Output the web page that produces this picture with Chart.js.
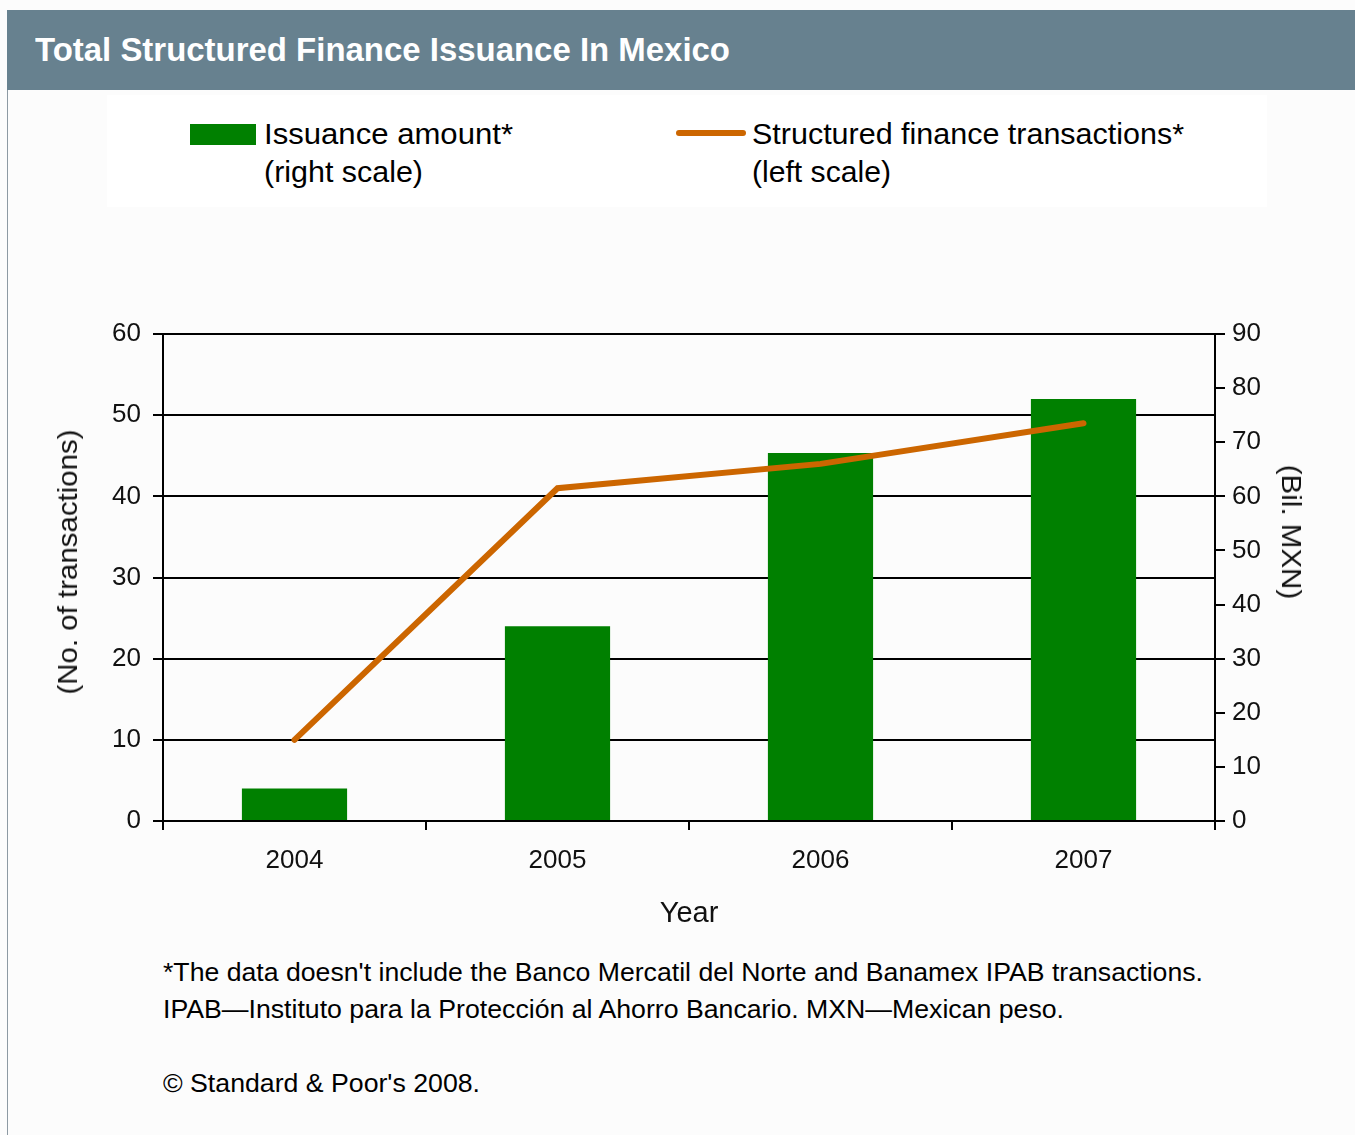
<!DOCTYPE html>
<html>
<head>
<meta charset="utf-8">
<script src="https://cdn.jsdelivr.net/npm/chart.js@4/dist/chart.umd.min.js"></script>
<style>
  body { margin: 0; width: 1355px; height: 1135px; background: #fcfcfc; position: relative; overflow: hidden;
         font-family: "Liberation Sans", Arial, sans-serif; color: #000; }
  #header { position: absolute; left: 7px; top: 10px; width: 1348px; height: 80px; background: #67818f; }
  #edge { position: absolute; left: 7px; top: 90px; width: 1px; height: 1045px; background: #8d9aa3; }
  #legendBox { position: absolute; left: 107px; top: 95px; width: 1160px; height: 112px; background: #fff; }
  .fit { position: absolute; white-space: nowrap; transform-origin: 0 50%; }
  .vt { position: absolute; white-space: nowrap; font-size: 28px; line-height: 32px; color: #111; transform-origin: 50% 50%; z-index: 2; }
  #title { left: 35px; top: 30px; line-height: 40px; font-size: 33px; font-weight: bold; color: #fff; }
  .leg { font-size: 29px; line-height: 36px; }
  .foot { font-size: 25px; line-height: 30px; left: 163px; }
  .swatch { position: absolute; }
  canvas { position: absolute; left: 0; top: 0; }
</style>
</head>
<body>
<div id="header"></div>
<div id="edge"></div>
<div id="legendBox"></div>
<div id="title" class="fit" data-w="695">Total Structured Finance Issuance In Mexico</div>

<div class="swatch" style="left:190px;top:124px;width:66px;height:21px;background:#008000"></div>
<div class="swatch" style="left:676px;top:130px;width:70px;height:6px;border-radius:3px;background:#cc6600"></div>
<div id="leg1a" class="fit leg" style="left:264px;top:116px" data-w="249"></div>
<div id="leg1b" class="fit leg" style="left:264px;top:154px" data-w="159">(right scale)</div>
<div id="leg2a" class="fit leg" style="left:752px;top:116px" data-w="432"></div>
<div id="leg2b" class="fit leg" style="left:752px;top:154px" data-w="139">(left scale)</div>

<div class="vt" style="left:68px;top:562px" data-w="265" data-r="-90">(No. of transactions)</div>
<div class="vt" style="left:1291px;top:532px" data-w="135" data-r="90">(Bil. MXN)</div>

<div class="fit foot" style="top:957px" data-w="1040">*The data doesn't include the Banco Mercatil del Norte and Banamex IPAB transactions.</div>
<div class="fit foot" style="top:994px" data-w="901">IPAB—Instituto para la Protección al Ahorro Bancario. MXN—Mexican peso.</div>
<div class="fit foot" style="top:1068px" data-w="317">© Standard &amp; Poor's 2008.</div>

<canvas id="chart" width="1355" height="1135"></canvas>

<script>
const years = ['2004', '2005', '2006', '2007'];
const issuanceAmount = [6, 36, 68, 78];      // Bil. MXN, right scale
const transactions = [10, 41, 44, 49];       // count, left scale
const seriesNames = ['Issuance amount*', 'Structured finance transactions*'];

document.getElementById('leg1a').textContent = seriesNames[0];
document.getElementById('leg2a').textContent = seriesNames[1];

// squeeze/stretch text to the widths measured on the reference
document.querySelectorAll('.fit').forEach(el => {
    const w = el.getBoundingClientRect().width;
    el.style.transform = 'scaleX(' + (el.dataset.w / w) + ')';
});
document.querySelectorAll('.vt').forEach(el => {
    const w = el.offsetWidth;
    el.style.transform = 'translate(-50%,-50%) rotate(' + el.dataset.r + 'deg) scaleX(' + (el.dataset.w / w) + ')';
});

const tickFont = { family: '"Liberation Sans", Arial, sans-serif', size: 26 };

new Chart(document.getElementById('chart'), {
    type: 'bar',
    data: {
        labels: years,
        datasets: [
            {
                type: 'line',
                label: seriesNames[1],
                data: transactions,
                yAxisID: 'y',
                borderColor: '#cc6600',
                borderWidth: 6,
                borderCapStyle: 'round',
                pointRadius: 0,
                tension: 0,
                order: 0
            },
            {
                label: seriesNames[0],
                data: issuanceAmount,
                yAxisID: 'y1',
                backgroundColor: '#008000',
                barPercentage: 0.4,
                categoryPercentage: 1.0,
                order: 1
            }
        ]
    },
    options: {
        responsive: false,
        animation: false,
        layout: { padding: { left: 54, top: 334, right: 51, bottom: 204 } },
        plugins: { legend: { display: false }, tooltip: { enabled: false } },
        scales: {
            x: {
                grid: { offset: true, drawOnChartArea: false, tickLength: 9, color: '#000', lineWidth: 2 },
                border: { color: '#000', width: 2 },
                ticks: { font: tickFont, color: '#111', padding: 15 },
                title: { display: true, text: 'Year', font: { family: tickFont.family, size: 29 }, color: '#111', padding: 0 },
                afterFit: s => { s.height = 110; }
            },
            y: {
                position: 'left',
                min: 0, max: 60,
                ticks: { stepSize: 10, font: tickFont, color: '#111', padding: 12 },
                grid: { color: '#000', lineWidth: 2, tickLength: 10 },
                border: { color: '#000', width: 2 },
                afterFit: s => { s.width = 109; }
            },
            y1: {
                position: 'right',
                min: 0, max: 90,
                ticks: { stepSize: 10, font: tickFont, color: '#111', padding: 7 },
                grid: { drawOnChartArea: false, color: '#000', lineWidth: 2, tickLength: 10 },
                border: { color: '#000', width: 2 },
                afterFit: s => { s.width = 89; }
            }
        }
    }
});
</script>
</body>
</html>
